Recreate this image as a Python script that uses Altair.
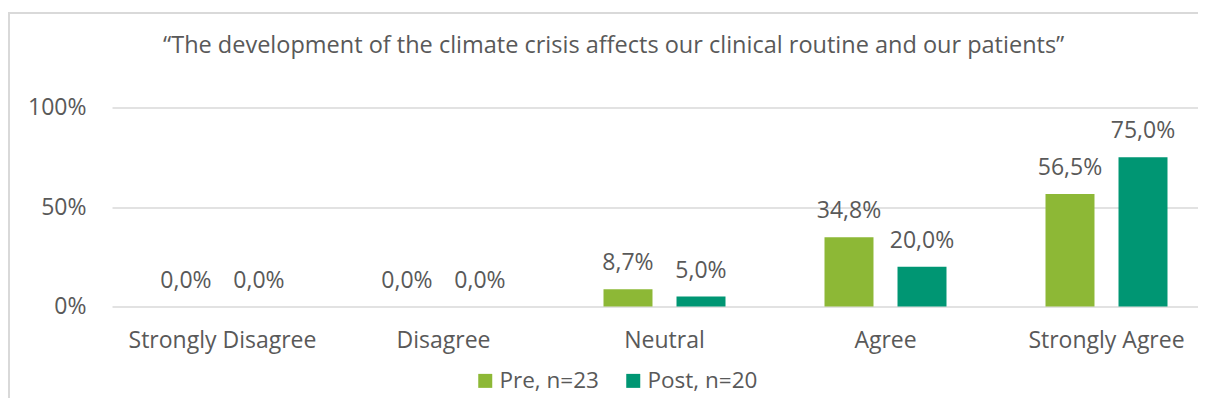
import altair as alt
import pandas as pd

categories = ["Strongly Disagree", "Disagree", "Neutral", "Agree", "Strongly Agree"]
groups = ["Pre, n=23", "Post, n=20"]
pre_values = [0.0, 0.0, 8.7, 34.8, 56.5]
post_values = [0.0, 0.0, 5.0, 20.0, 75.0]
colors = ["#8DB836", "#009673"]
title_text = "\u201cThe development of the climate crisis affects our clinical routine and our patients\u201d"

rows = []
for grp, vals in zip(groups, [pre_values, post_values]):
    for c, v in zip(categories, vals):
        rows.append({"cat": c, "grp": grp, "val": v / 100.0,
                     "label": f"{v:.1f}%".replace(".", ",")})
df = pd.DataFrame(rows)

FONT = "Open Sans"
GREY = "#595959"
GRID = "#D9D9D9"
FS = 23

W, H = 1105, 199
PL, PT = 104, 99.5
PR = 1190 - PL - W
PB = 390 - PT - H

x_enc = alt.X("cat:N", sort=categories,
              scale=alt.Scale(paddingInner=0, paddingOuter=0),
              axis=alt.Axis(title=None, labelAngle=0, ticks=False, domain=False,
                            labelPadding=41, labelBaseline="alphabetic", labelLimit=400,
                            labelFontSize=FS, labelColor=GREY, labelFont=FONT))
xo_enc = alt.XOffset("grp:N", sort=groups,
                     scale=alt.Scale(paddingInner=0.329, paddingOuter=0.678))
y_enc = alt.Y("val:Q", scale=alt.Scale(domain=[0, 1]),
              axis=alt.Axis(title=None, format=".0%", values=[0, 0.5, 1],
                            ticks=False, domain=False, gridColor=GRID, gridWidth=1.5,
                            labelPadding=26, labelFontSize=FS, labelColor=GREY,
                            labelFont=FONT, labelBaseline="middle"))
color_enc = alt.Color("grp:N", sort=groups,
                      scale=alt.Scale(domain=groups, range=colors),
                      legend=alt.Legend(title=None, orient="none", legendX=362,
                                        legendY=262, direction="horizontal",
                                        symbolType="square", symbolSize=196,
                                        symbolStrokeWidth=0, labelFontSize=22.5,
                                        labelColor=GREY, labelFont=FONT, labelLimit=400,
                                        labelOffset=3, columnPadding=23, padding=0))

bars = alt.Chart(df).mark_bar().encode(x=x_enc, xOffset=xo_enc, y=y_enc, color=color_enc)
labels = alt.Chart(df).mark_text(baseline="alphabetic", dy=-19, fontSize=FS,
                                 font=FONT, color=GREY).encode(
    x=alt.X("cat:N", sort=categories), xOffset=alt.XOffset("grp:N", sort=groups),
    y=alt.Y("val:Q"), text="label:N")

frame_df = pd.DataFrame({"k": [0]})
top_line = alt.Chart(frame_df).mark_rule(color=GRID, strokeWidth=2).encode(
    x=alt.value(-PL), x2=alt.value(W + 20), y=alt.value(5 - PT))
left_line = alt.Chart(frame_df).mark_rule(color=GRID, strokeWidth=2).encode(
    x=alt.value(1 - PL), y=alt.value(5 - PT), y2=alt.value(H + PB))

chart = alt.layer(top_line, left_line, bars, labels).properties(
    width=W, height=H,
    autosize=alt.AutoSizeParams(type="none"),
    padding={"left": PL, "top": PT, "right": PR, "bottom": PB},
    title=alt.TitleParams(text=title_text, anchor="start", frame="group", dx=51,
                          offset=0, dy=64, baseline="alphabetic", fontSize=23.5,
                          font=FONT, color=GREY, fontWeight="normal"),
).configure_view(stroke=None)

chart.save("out.html", embed_options={"renderer": "svg", "actions": False})
